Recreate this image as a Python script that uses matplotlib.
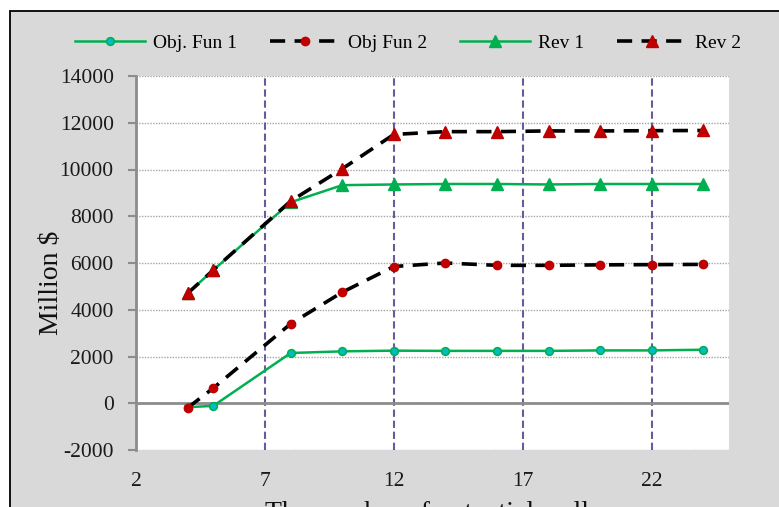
import matplotlib
matplotlib.use('Agg')
import matplotlib.pyplot as plt
from matplotlib.patches import Rectangle

plt.rcParams['font.family'] = ['Liberation Serif', 'DejaVu Serif']
plt.rcParams['axes.unicode_minus'] = False

# wells count on x axis
wells = [4, 5, 8, 10, 12, 14, 16, 18, 20, 22, 24]

# million dollars
obj_fun_1 = [-170, -110, 2150, 2220, 2250, 2240, 2240, 2240, 2260, 2260, 2290]
obj_fun_2 = [-200, 650, 3400, 4750, 5850, 6000, 5900, 5900, 5920, 5930, 5940]
rev_1 = [4700, 5700, 8600, 9330, 9360, 9380, 9380, 9360, 9380, 9380, 9380]
rev_2 = [4700, 5700, 8650, 10030, 11500, 11620, 11620, 11650, 11650, 11660, 11670]

x_ticks = [2, 7, 12, 17, 22]
y_ticks = list(range(-2000, 14001, 2000))

green = '#00b050'
red = '#c00000'

W, H = 779, 507
fig = plt.figure(figsize=(W / 100, H / 100), dpi=100)
fig.patch.set_facecolor('white')
fig.patches.append(Rectangle((9.5 / W, -0.1), 1.2, 1 - 11 / H + 0.1,
                             transform=fig.transFigure, facecolor='#d9d9d9',
                             edgecolor='black', lw=1.3, zorder=-10))

ax = fig.add_axes([136 / W, 1 - 450 / H, (729 - 136) / W, (450 - 76) / H])
ax.set_facecolor('white')

# grid: dotted horizontals, dashed purple verticals
for y in y_ticks:
    ax.axhline(y, color='#a6a6a6', lw=1.0, ls=(0, (1, 1)), zorder=0)
for x in x_ticks[1:]:
    ax.axvline(x, color='#6a5a9c', lw=1.5, ls=(0, (3.5, 1.8)), zorder=0)
ax.axhline(0, color='#8c8c8c', lw=2, zorder=1)

dash = (0, (4.2, 2.6))
ax.plot(wells, obj_fun_1, color=green, lw=1.8, marker='o', ms=5.5,
        mfc='#00bcc8', mec=green, mew=1.2, label='Obj. Fun 1', zorder=3)
ax.plot(wells, obj_fun_2, color='black', lw=2.6, ls=dash, marker='o', ms=6,
        mfc=red, mec=red, label='Obj Fun 2', zorder=3)
ax.plot(wells, rev_1, color=green, lw=1.8, marker='^', ms=9,
        mfc=green, mec=green, label='Rev 1', zorder=3)
ax.plot(wells, rev_2, color='black', lw=2.6, ls=dash, marker='^', ms=9,
        mfc=red, mec=red, label='Rev 2', zorder=3)

ax.set_xlim(2, 25)
ax.set_ylim(-2000, 14000)
ax.set_xticks(x_ticks)
ax.set_yticks(y_ticks)

for s in ['top', 'right', 'bottom']:
    ax.spines[s].set_visible(False)
ax.spines['left'].set_color('#8c8c8c')
ax.spines['left'].set_linewidth(2)
ax.tick_params(axis='y', direction='out', length=6, width=1.5, color='#8c8c8c',
               pad=10, labelsize=15.5, labelcolor='#1a1a1a')
ax.tick_params(axis='x', length=0, pad=16, labelsize=15.5, labelcolor='#1a1a1a')

fig.text(52 / W, 1 - 283 / H, 'Million $', rotation=90, ha='center', va='center',
         fontsize=20, color='#111111')
fig.text(432 / W, 1 - 501 / H, 'The number of potential wells', ha='center',
         va='top', fontsize=20, color='#111111')

fig.legend(loc='center', bbox_to_anchor=(408 / W, 1 - 43 / H), ncol=4,
           frameon=False, fontsize=14, handlelength=3.6, columnspacing=1.7,
           handletextpad=0.4)

fig.savefig('out.png', dpi=100)
